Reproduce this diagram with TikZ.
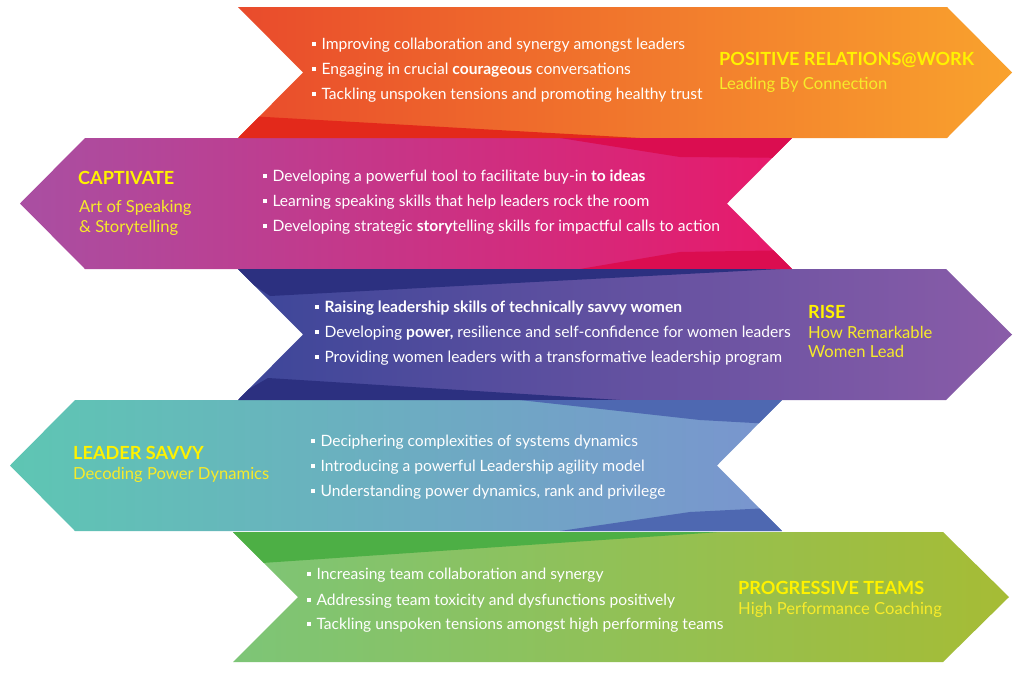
\documentclass[tikz,border=0pt]{standalone}
\usepackage{fontspec}
\setmainfont{Lato}
\definecolor{oA}{HTML}{E94B2C}\definecolor{oM}{HTML}{F2702F}\definecolor{oB}{HTML}{F9A22D}\definecolor{oF}{HTML}{E3291B}
\definecolor{mA}{HTML}{A94FA2}\definecolor{mM}{HTML}{D33096}\definecolor{mB}{HTML}{E8196A}\definecolor{mF}{HTML}{DB0D50}
\definecolor{pA}{HTML}{3C4699}\definecolor{pM}{HTML}{5F4F9E}\definecolor{pB}{HTML}{8A5CA8}\definecolor{pF}{HTML}{2C3080}
\definecolor{tA}{HTML}{5EC6B3}\definecolor{tM}{HTML}{68B5D6}\definecolor{tB}{HTML}{7A94CF}\definecolor{tF}{HTML}{4E68B1}
\definecolor{gA}{HTML}{7DC577}\definecolor{gM}{HTML}{94C160}\definecolor{gB}{HTML}{A6BC35}\definecolor{gF}{HTML}{4DAF45}
\definecolor{ttlyellow}{HTML}{FFF200}\definecolor{subyellow}{HTML}{F7EB2A}
\newcommand{\bul}{\raisebox{2.8pt}{\rule{3.8pt}{3.8pt}}\hspace{5.5pt}}
\tikzset{
  bandA/.style={insert path={(238,7) -- (947,7) -- (1012,72.5) -- (947,138) -- (238,138) -- (303,72.5) -- cycle}},
  bandB/.style={insert path={(85,138) -- (792,138) -- (727,203.5) -- (792,269) -- (85,269) -- (20,203.5) -- cycle}},
  bandC/.style={insert path={(238,269) -- (946,269) -- (1012,334.5) -- (946,400) -- (238,400) -- (303,334.5) -- cycle}},
  bandD/.style={insert path={(75,400) -- (782,400) -- (717,465.5) -- (782,531) -- (75,531) -- (10,465.5) -- cycle}},
  bandE/.style={insert path={(233,532) -- (943,532) -- (1009,597) -- (943,662) -- (233,662) -- (298,597) -- cycle}},
  bl/.style={anchor=base west, text=white, inner sep=0, font=\fontsize{15.6}{15.6}\selectfont},
  ttl/.style={anchor=base west, text=ttlyellow, inner sep=0, font=\fontsize{18.1}{18.1}\selectfont\bfseries},
  sub/.style={anchor=base west, text=subyellow, inner sep=0, font=\fontsize{16.6}{16.6}\selectfont},
}
\begin{document}
\begin{tikzpicture}[x=1pt,y=-1pt]
\useasboundingbox (0,0) rectangle (1023,673);
\fill[white] (0,0) rectangle (1023,673);
% bands
\shade[left color=oA, middle color=oM, right color=oB, bandA];
\shade[left color=mA, middle color=mM, right color=mB, bandB];
\shade[left color=pA, middle color=pM, right color=pB, bandC];
\shade[left color=tA, middle color=tM, right color=tB, bandD];
\shade[left color=gA, middle color=gM, right color=gB, bandE];
% folds
\begin{scope}\clip[bandA];
  \fill[oF] (230,115) -- (640,138) -- (230,138) -- cycle;
\end{scope}
\begin{scope}\clip[bandB];
  \fill[mF] (560,138) -- (800,138) -- (800,158) -- (680,157) -- cycle;
  \fill[mF] (580,269) -- (800,269) -- (800,250) -- (680,252) -- cycle;
\end{scope}
\begin{scope}\clip[bandC];
  \fill[pF] (230,269) -- (780,269) -- (270,296) -- cycle;
  \fill[pF] (230,400) -- (620,400) -- (268,378) -- cycle;
\end{scope}
\begin{scope}\clip[bandD];
  \fill[tF] (520,400) -- (790,400) -- (790,425) -- (700,420) -- cycle;
  \fill[tF] (560,531) -- (790,531) -- (790,507) -- (690,512) -- cycle;
\end{scope}
\begin{scope}\clip[bandE];
  \fill[gF] (225,532) -- (720,532) -- (262,563) -- cycle;
\end{scope}
% band 1 texts
\node[bl] (a1) at (312,49) {\bul Improving collaboration and synergy amongst leaders};
\node[bl] (a2) at (312,74) {\bul Engaging in crucial \textbf{courageous} conversations};
\node[bl] (a3) at (312,99) {\bul Tackling unspoken tensions and promoting healthy trust};
\node[ttl] (at) at (719,65.5) {POSITIVE RELATIONS@WORK};
\node[sub] (as) at (719,89.5) {Leading By Connection};
% band 2 texts
\node[ttl] (bt) at (78,184.5) {CAPTIVATE};
\node[sub] (bs1) at (79,212.5) {Art of Speaking};
\node[sub] (bs2) at (79,232.5) {\& Storytelling};
\node[bl] (b1) at (263,181) {\bul Developing a powerful tool to facilitate buy-in \textbf{to ideas}};
\node[bl] (b2) at (263,206) {\bul Learning speaking skills that help leaders rock the room};
\node[bl] (b3) at (263,231) {\bul Developing strategic \textbf{story}telling skills for impactful calls to action};
% band 3 texts
\node[bl] (c1) at (315,312) {\bul \textbf{Raising leadership skills of technically savvy women}};
\node[bl] (c2) at (315,337) {\bul Developing \textbf{power,} resilience and self-confidence for women leaders};
\node[bl] (c3) at (315,362) {\bul Providing women leaders with a transformative leadership program};
\node[ttl] (ct) at (808,318.5) {RISE};
\node[sub] (cs1) at (808,338.5) {How Remarkable};
\node[sub] (cs2) at (808,357.5) {Women Lead};
% band 4 texts
\node[ttl] (dt) at (73,459.5) {LEADER SAVVY};
\node[sub] (ds) at (73,479.5) {Decoding Power Dynamics};
\node[bl] (d1) at (311,446) {\bul Deciphering complexities of systems dynamics};
\node[bl] (d2) at (311,471) {\bul Introducing a powerful Leadership agility model};
\node[bl] (d3) at (311,496) {\bul Understanding power dynamics, rank and privilege};
% band 5 texts
\node[bl] (e1) at (307,579) {\bul Increasing team collaboration and synergy};
\node[bl] (e2) at (307,605) {\bul Addressing team toxicity and dysfunctions positively};
\node[bl] (e3) at (307,629) {\bul Tackling unspoken tensions amongst high performing teams};
\node[ttl] (et) at (738,594.5) {PROGRESSIVE TEAMS};
\node[sub] (es) at (738,614.5) {High Performance Coaching};
\end{tikzpicture}
\end{document}
